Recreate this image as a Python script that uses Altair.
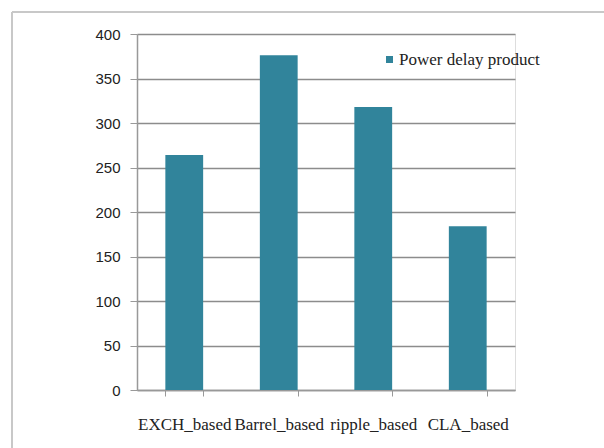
import altair as alt
import pandas as pd

designs = ["EXCH_based", "Barrel_based", "ripple_based", "CLA_based"]
pdp = [264, 376, 318, 184]
series = "Power delay product"

df = pd.DataFrame({"design": designs, "pdp": pdp, "series": [series] * len(designs)})

bars = alt.Chart(df).mark_bar(color="#31849B").encode(
    x=alt.X(
        "design:N",
        sort=designs,
        scale=alt.Scale(paddingInner=0.6, paddingOuter=0.3),
        axis=alt.Axis(
            title=None, labelAngle=0, labelFont="Liberation Serif", labelFontSize=17,
            labelColor="#222222", labelPadding=20, tickSize=6, tickColor="#999999",
            tickBand="extent", domainColor="#999999", domainWidth=1.5, grid=False,
            labelLimit=200,
        ),
    ),
    y=alt.Y(
        "pdp:Q",
        scale=alt.Scale(domain=[0, 400]),
        axis=alt.Axis(
            title=None, values=list(range(0, 401, 50)), labelFont="Liberation Sans",
            labelFontSize=15, labelColor="#222222", labelPadding=10, tickSize=7,
            tickColor="#999999", domainColor="#999999", domainWidth=1.5,
            gridColor="#8c8c8c", gridWidth=1.5,
        ),
    ),
    fill=alt.Fill(
        "series:N",
        scale=alt.Scale(range=["#31849B"]),
        legend=alt.Legend(
            title=None, orient="none", legendX=244, legendY=17, symbolType="square",
            symbolSize=49, labelFont="Liberation Serif", labelFontSize=17,
            labelColor="#222222", symbolStrokeWidth=0, labelLimit=300, labelOffset=1,
        ),
    ),
)

# light frame around the figure (left and top edges)
frame_left = alt.Chart(df).mark_rule(color="#c8c8c8", strokeWidth=2).encode(
    x=alt.value(-125), y=alt.value(-22), y2=alt.value(420)
)
frame_top = alt.Chart(df).mark_rule(color="#c8c8c8", strokeWidth=2).encode(
    x=alt.value(-125), x2=alt.value(470), y=alt.value(-22)
)

chart = alt.layer(bars, frame_left, frame_top).properties(
    width=378, height=356,
    autosize=alt.AutoSizeParams(type="none"),
    padding={"left": 137, "top": 34, "right": 89, "bottom": 58},
).configure_view(stroke=None).configure(background="white")

chart.save("out.html", embed_options={"renderer": "svg", "actions": False})
